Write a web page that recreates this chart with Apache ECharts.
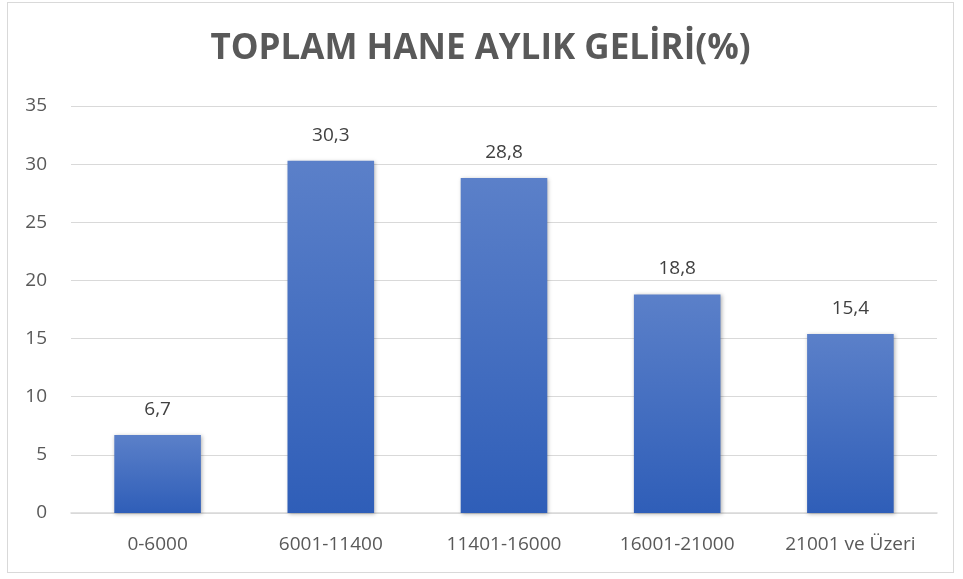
<!DOCTYPE html>
<html>
<head>
<meta charset="utf-8">
<script src="https://cdn.jsdelivr.net/npm/echarts@6/dist/echarts.min.js"></script>
<style>
  html, body { margin: 0; padding: 0; background: #fff; }
  #chart { position: absolute; left: 7px; top: 2px; width: 947px; height: 571px; border: 1px solid #d9d9d9; box-sizing: border-box; }
</style>
</head>
<body>
<div id="chart"></div>
<script>
// kategoriler ve değerler
var categories = ['0-6000', '6001-11400', '11401-16000', '16001-21000', '21001 ve Üzeri'];
var values = [6.7, 30.3, 28.8, 18.8, 15.4];
var titleText = 'TOPLAM HANE AYLIK GELİRİ(%)';

var myChart = echarts.init(document.getElementById('chart'));

var option = {
    animation: false,
    title: {
        text: titleText,
        left: 'center',
        top: 24,
        textStyle: {
            fontFamily: 'Open Sans',
            fontWeight: 'bold',
            fontSize: 35,
            color: '#595959'
        }
    },
    grid: {
        left: 63,
        right: 16,
        top: 103,
        bottom: 59
    },
    xAxis: {
        type: 'category',
        data: categories,
        axisLine: { lineStyle: { color: '#d9d9d9', width: 1.5 } },
        axisTick: { show: false },
        axisLabel: {
            margin: 22,
            fontFamily: 'Open Sans',
            fontSize: 19,
            color: '#595959'
        }
    },
    yAxis: {
        type: 'value',
        min: 0,
        max: 35,
        interval: 5,
        axisLine: { show: false },
        axisTick: { show: false },
        splitLine: { lineStyle: { color: '#d9d9d9', width: 1 } },
        axisLabel: {
            margin: 24,
            fontFamily: 'Open Sans',
            fontSize: 19,
            color: '#595959'
        }
    },
    series: [{
        type: 'bar',
        data: values,
        barWidth: '50%',
        itemStyle: {
            color: new echarts.graphic.LinearGradient(0, 0, 0, 1, [
                { offset: 0, color: '#5b80c9' },
                { offset: 1, color: '#2f5eb8' }
            ]),
            shadowBlur: 4,
            shadowOffsetX: 1,
            shadowOffsetY: 1,
            shadowColor: 'rgba(0,0,0,0.3)'
        },
        label: {
            show: true,
            position: 'top',
            distance: 16,
            fontFamily: 'Open Sans',
            fontSize: 19,
            color: '#404040',
            formatter: function (p) {
                return String(p.value).replace('.', ',');
            }
        }
    }]
};

myChart.setOption(option);
</script>
</body>
</html>
